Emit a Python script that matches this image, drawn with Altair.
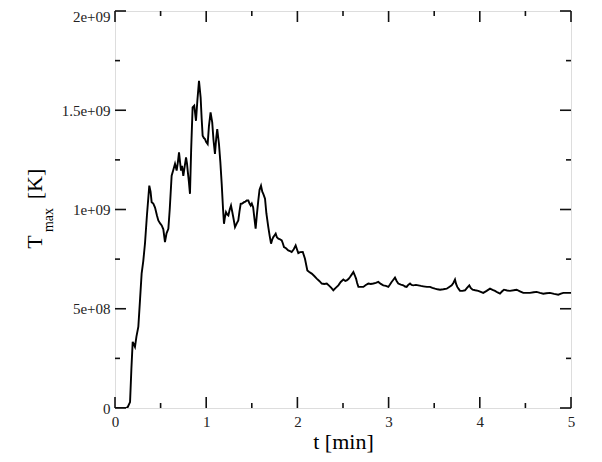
import altair as alt
import pandas as pd

# ---- data ----
t_min = [0, 0.12, 0.14, 0.165, 0.18, 0.194, 0.219, 0.235, 0.256, 0.275, 0.292, 0.31, 0.329, 0.35, 0.376,
         0.39, 0.402, 0.42, 0.439, 0.46, 0.475, 0.495, 0.512, 0.53, 0.548, 0.565, 0.585, 0.6, 0.621, 0.64,
         0.658, 0.676, 0.69, 0.702, 0.713, 0.724, 0.735, 0.749, 0.765, 0.779, 0.79, 0.797, 0.81, 0.822,
         0.835, 0.851, 0.869, 0.888, 0.903, 0.921, 0.939, 0.95, 0.961, 0.975, 0.987, 1.0, 1.016, 1.03,
         1.048, 1.066, 1.08, 1.096, 1.11, 1.121, 1.14, 1.155, 1.17, 1.185, 1.195, 1.205, 1.217, 1.23,
         1.243, 1.258, 1.272, 1.285, 1.297, 1.316, 1.335, 1.352, 1.365, 1.378, 1.395, 1.415, 1.43, 1.444,
         1.462, 1.475, 1.488, 1.5, 1.515, 1.53, 1.542, 1.555, 1.571, 1.585, 1.601, 1.615, 1.626, 1.645,
         1.66, 1.681, 1.695, 1.711, 1.725, 1.736, 1.75, 1.762, 1.775, 1.791, 1.81, 1.828, 1.84, 1.853,
         1.875, 1.9, 1.92, 1.937, 1.96, 1.981, 1.995, 2.01, 2.03, 2.059, 2.083, 2.109, 2.13, 2.157, 2.185,
         2.212, 2.24, 2.267, 2.295, 2.322, 2.35, 2.372, 2.394, 2.42, 2.449, 2.475, 2.504, 2.525, 2.541,
         2.56, 2.577, 2.595, 2.614, 2.628, 2.643, 2.655, 2.669, 2.695, 2.723, 2.75, 2.778, 2.805, 2.833,
         2.86, 2.887, 2.915, 2.942, 2.97, 2.997, 3.015, 3.033, 3.05, 3.07, 3.088, 3.106, 3.135, 3.161,
         3.18, 3.198, 3.215, 3.235, 3.252, 3.27, 3.3, 3.326, 3.355, 3.38, 3.42, 3.454, 3.48, 3.509, 3.535,
         3.564, 3.6, 3.637, 3.665, 3.692, 3.71, 3.728, 3.74, 3.753, 3.768, 3.783, 3.81, 3.838, 3.86,
         3.885, 3.9, 3.921, 3.95, 3.983, 4.01, 4.038, 4.075, 4.112, 4.14, 4.167, 4.195, 4.221, 4.245,
         4.265, 4.3, 4.331, 4.37, 4.404, 4.44, 4.477, 4.515, 4.55, 4.59, 4.623, 4.66, 4.696, 4.73, 4.769,
         4.815, 4.861, 4.89, 4.916, 4.95, 4.989, 5.0]
T_max_e9 = [0, 0, 0.005, 0.03, 0.2, 0.333, 0.308, 0.36, 0.41, 0.55, 0.677, 0.74, 0.83, 0.97, 1.12,
            1.09, 1.037, 1.03, 1.01, 0.97, 0.945, 0.93, 0.92, 0.9, 0.836, 0.88, 0.903, 1.0, 1.17, 1.2,
            1.23, 1.196, 1.24, 1.288, 1.24, 1.196, 1.22, 1.17, 1.22, 1.263, 1.23, 1.196, 1.14, 1.079,
            1.3, 1.514, 1.523, 1.447, 1.548, 1.648, 1.564, 1.46, 1.372, 1.36, 1.355, 1.34, 1.33, 1.42,
            1.489, 1.439, 1.35, 1.28, 1.36, 1.405, 1.33, 1.24, 1.129, 1.0, 0.928, 0.96, 0.987, 0.975,
            0.97, 1.0, 1.02, 0.99, 0.961, 0.911, 0.93, 0.945, 0.99, 1.029, 1.03, 1.037, 1.04, 1.045,
            1.045, 1.03, 1.02, 1.03, 1.01, 0.95, 0.903, 0.97, 1.045, 1.1, 1.12, 1.09, 1.079, 1.054,
            0.98, 0.911, 0.87, 0.828, 0.85, 0.861, 0.87, 0.878, 0.86, 0.853, 0.85, 0.844, 0.83, 0.811,
            0.805, 0.794, 0.79, 0.786, 0.8, 0.819, 0.8, 0.78, 0.785, 0.786, 0.752, 0.693, 0.685, 0.677, 0.665,
            0.652, 0.64, 0.627, 0.625, 0.627, 0.615, 0.605, 0.593, 0.605, 0.618, 0.635, 0.647, 0.64, 0.643,
            0.65, 0.66, 0.672, 0.685, 0.67, 0.652, 0.63, 0.61, 0.61, 0.61, 0.62, 0.627, 0.625, 0.627,
            0.63, 0.635, 0.625, 0.618, 0.615, 0.61, 0.622, 0.635, 0.645, 0.657, 0.64, 0.627, 0.622, 0.618,
            0.612, 0.61, 0.62, 0.627, 0.62, 0.618, 0.62, 0.618, 0.615, 0.613, 0.61, 0.61, 0.605, 0.601, 0.598,
            0.596, 0.598, 0.601, 0.61, 0.618, 0.63, 0.647, 0.625, 0.61, 0.6, 0.59, 0.59, 0.593, 0.605,
            0.618, 0.605, 0.596, 0.593, 0.59, 0.585, 0.58, 0.59, 0.601, 0.595, 0.59, 0.582, 0.576, 0.588,
            0.596, 0.592, 0.59, 0.593, 0.596, 0.588, 0.58, 0.58, 0.58, 0.583, 0.585, 0.58, 0.576, 0.578, 0.58,
            0.575, 0.571, 0.576, 0.58, 0.58, 0.58, 0.58]

x_ticks_major = [0, 1, 2, 3, 4, 5]
x_ticks_minor = [0.5, 1.5, 2.5, 3.5, 4.5]
y_ticks_major = [0, 0.5, 1.0, 1.5, 2.0]
y_ticks_minor = [0.25, 0.75, 1.25, 1.75]
y_tick_labels = ["0", "5e+08", "1e+09", "1.5e+09", "2e+09"]
x_title = "t [min]"
y_title_parts = ["T", "max", "[K]"]

# ---- layout / style ----
W, H = 456, 397
FONT = "Liberation Serif"
MAJ, MIN = 11, 5

df = pd.DataFrame({"t": t_min, "T": T_max_e9})
xscale = alt.Scale(domain=[0, 5], nice=False, zero=False)
yscale = alt.Scale(domain=[0, 2], nice=False, zero=False)

ylabel_expr = "[" + ",".join(f"'{s}'" for s in y_tick_labels) + "][round(datum.value*2)]"

xaxis = alt.Axis(
    values=x_ticks_major, title=x_title, domain=False, ticks=False, grid=False,
    labelPadding=6, labelFontSize=15, labelFont=FONT, labelColor="#222",
    titleFont=FONT, titleFontSize=22, titleFontWeight="normal", titleColor="black",
    titlePadding=2, labelFlush=False)
yaxis = alt.Axis(
    values=y_ticks_major, title="", labelExpr=ylabel_expr, domain=False, ticks=False,
    grid=False, labelPadding=5, labelFontSize=15, labelFont=FONT, labelColor="#222",
    labelFlush=False,
    labelOffset=alt.condition("datum.value >= 2", alt.value(5), alt.value(0)))

line = alt.Chart(df).mark_line(color="black", strokeWidth=1.9, clip=True).encode(
    x=alt.X("t:Q", scale=xscale, axis=xaxis),
    y=alt.Y("T:Q", scale=yscale, axis=yaxis),
)


def xticks(vals, length):
    d = pd.DataFrame({"t": vals})
    bottom = alt.Chart(d).mark_rule(color="#111", strokeWidth=1.6).encode(
        x=alt.X("t:Q", scale=xscale, axis=xaxis), y=alt.value(H), y2=alt.value(H - length))
    top = alt.Chart(d).mark_rule(color="#111", strokeWidth=1.6).encode(
        x=alt.X("t:Q", scale=xscale, axis=xaxis), y=alt.value(0), y2=alt.value(length))
    return [bottom, top]


def yticks(vals, length):
    d = pd.DataFrame({"T": vals})
    left = alt.Chart(d).mark_rule(color="#111", strokeWidth=1.6).encode(
        y=alt.Y("T:Q", scale=yscale, axis=yaxis), x=alt.value(0), x2=alt.value(length))
    right = alt.Chart(d).mark_rule(color="#111", strokeWidth=1.6).encode(
        y=alt.Y("T:Q", scale=yscale, axis=yaxis), x=alt.value(W), x2=alt.value(W - length))
    return [left, right]


ticks = (xticks(x_ticks_major, MAJ) + xticks(x_ticks_minor, MIN)
         + yticks(y_ticks_major, MAJ) + yticks(y_ticks_minor, MIN))


def title_part(s, size, x, y):
    return alt.Chart(pd.DataFrame({"s": [s]})).mark_text(
        angle=270, font=FONT, fontSize=size, align="center", baseline="middle",
        color="black").encode(x=alt.value(x), y=alt.value(y), text="s:N")


t_T = title_part(y_title_parts[0], 22, -80, 231)
t_max = title_part(y_title_parts[1], 14, -66, 209)
t_K = title_part(y_title_parts[2], 22, -80, 173)

chart = alt.layer(line, *ticks, t_T, t_max, t_K).properties(
    width=W, height=H,
    autosize=alt.AutoSizeParams(type="none"),
    padding={"left": 107, "top": 3, "right": 20, "bottom": 50},
).configure_view(stroke="#111", strokeWidth=2.2).configure(background="white")

chart.save("out.html", embed_options={"renderer": "svg", "actions": False})
